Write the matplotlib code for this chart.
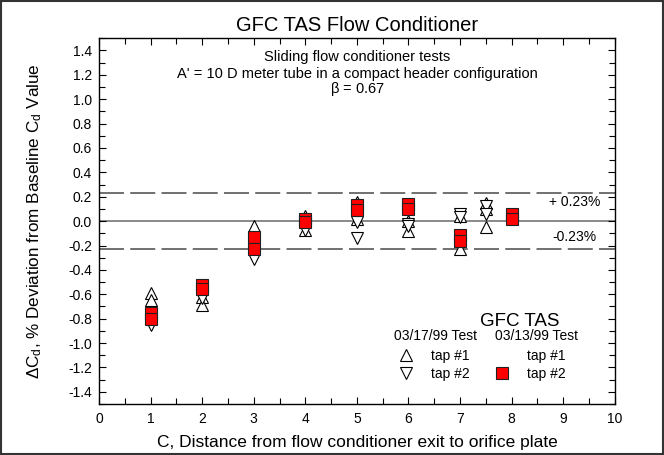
import matplotlib
matplotlib.use("Agg")
import matplotlib.pyplot as plt
from matplotlib.lines import Line2D
from matplotlib.patches import Rectangle
from matplotlib.ticker import MultipleLocator

plt.rcParams["font.family"] = ["Liberation Sans", "DejaVu Sans"]
plt.rcParams["mathtext.fontset"] = "custom"
plt.rcParams["mathtext.rm"] = "Liberation Sans"
plt.rcParams["mathtext.it"] = "Liberation Sans"
plt.rcParams["lines.scale_dashes"] = False

# =========================
# data
# =========================
# 03/17/99 test, tap #1 (up triangles)
X_T17_TAP1 = [1, 1, 2, 2, 3, 3, 4, 4, 5, 5, 6, 6, 7, 7, 7.5, 7.5, 7.5]
Y_T17_TAP1 = [-0.59, -0.65, -0.62, -0.69, -0.04, -0.20, 0.04, -0.07,
              0.16, 0.02, 0.00, -0.08, 0.04, -0.23, 0.15, 0.10, -0.05]
# 03/17/99 test, tap #2 (down triangles)
X_T17_TAP2 = [1, 1, 2, 2, 3, 3, 4, 4, 5, 5, 6, 6, 7, 7, 7.5, 7.5]
Y_T17_TAP2 = [-0.80, -0.85, -0.59, -0.63, -0.27, -0.31, -0.04, -0.07,
              -0.01, -0.14, -0.02, -0.04, 0.06, 0.03, 0.12, 0.06]
# 03/13/99 test, tap #2 (red squares)
X_T13_TAP2 = [1, 1, 2, 2, 3, 3, 4, 4, 5, 5, 6, 6, 7, 7, 8, 8]
Y_T13_TAP2 = [-0.75, -0.80, -0.52, -0.56, -0.13, -0.23, 0.02, -0.01,
              0.13, 0.09, 0.14, 0.10, -0.11, -0.16, 0.06, 0.02]

LIMIT = 0.23
YTICKS = [i / 10 for i in range(-14, 15, 2)]

# =========================
# figure
# =========================
fig = plt.figure(figsize=(6.64, 4.55), dpi=100)
ax = fig.add_axes([0.149, 0.112, 0.777, 0.804])

# reference lines
ax.axhline(0, color="#808080", lw=1.3, zorder=1)
for yv in (LIMIT, -LIMIT):
    ax.axhline(yv, color="#707070", lw=1.4, dashes=(18, 4.5), zorder=1)

tri_style = dict(ls="none", mfc="white", mec="black", mew=0.8, ms=9.3)
sq_style = dict(ls="none", mfc="#ff0000", mec="#202020", mew=0.8, ms=9)
ax.plot(X_T17_TAP1, Y_T17_TAP1, marker="^", zorder=3, **tri_style)
ax.plot(X_T17_TAP2, Y_T17_TAP2, marker="v", zorder=3, **tri_style)
ax.plot(X_T13_TAP2, Y_T13_TAP2, marker="s", zorder=4, **sq_style)

ax.set_xlim(0, 10)
ax.set_ylim(-1.5, 1.5)
ax.xaxis.set_major_locator(MultipleLocator(1))
ax.xaxis.set_minor_locator(MultipleLocator(0.5))
ax.yaxis.set_minor_locator(MultipleLocator(0.1))
ax.set_yticks(YTICKS)
ax.set_yticklabels([f"{v:.1f}" for v in YTICKS])
ax.tick_params(which="both", direction="in", top=True, right=True,
               labelsize=10, width=0.8)
ax.tick_params(which="major", length=5)
ax.tick_params(which="minor", length=4)
ax.tick_params(axis="x", pad=6)
ax.tick_params(axis="y", pad=5)
for s in ax.spines.values():
    s.set_linewidth(1.0)

ax.set_title("GFC TAS Flow Conditioner", fontsize=14.5, pad=5)
ax.set_xlabel("C, Distance from flow conditioner exit to orifice plate",
              fontsize=12.5, labelpad=6)
ax.set_ylabel(r"$\Delta$C$_\mathrm{d}$, % Deviation from Baseline C$_\mathrm{d}$ Value",
              fontsize=12.3, labelpad=17)

# annotations
ax.text(5.0, 1.35, "Sliding flow conditioner tests", ha="center", va="center", fontsize=10.5)
ax.text(5.0, 1.21, "A' = 10 D meter tube in a compact header configuration",
        ha="center", va="center", fontsize=10.5)
ax.text(5.0, 1.08, r"$\beta$ = 0.67", ha="center", va="center", fontsize=10.5)
ax.text(9.72, 0.155, "+ 0.23%", ha="right", va="center", fontsize=10)
ax.text(9.64, -0.13, "-0.23%", ha="right", va="center", fontsize=10)

# legend block
ax.text(8.16, -0.82, "GFC TAS", ha="center", va="center", fontsize=13.5)
ax.text(6.53, -0.94, "03/17/99 Test", ha="center", va="center", fontsize=10)
ax.text(8.49, -0.94, "03/13/99 Test", ha="center", va="center", fontsize=10)
handles = [
    Line2D([], [], marker="^", **tri_style),
    Line2D([], [], marker="v", **tri_style),
    Line2D([], [], marker="s", ls="none", mfc="none", mec="none", ms=9),
    Line2D([], [], marker="s", **sq_style),
]
ax.legend(handles, ["tap #1", "tap #2", "tap #1", "tap #2"], ncol=2,
          loc="upper left", bbox_to_anchor=(0.569, 0.169), frameon=False,
          fontsize=10, handlelength=1.0, handletextpad=1.3, columnspacing=1.8,
          labelspacing=0.3, borderpad=0)

# outer frame around the whole picture
fig.patches.append(Rectangle((0.002, 0.002), 0.996, 0.996, transform=fig.transFigure,
                             fill=False, ec="#333333", lw=1.5))

fig.savefig("out.png", dpi=100)
